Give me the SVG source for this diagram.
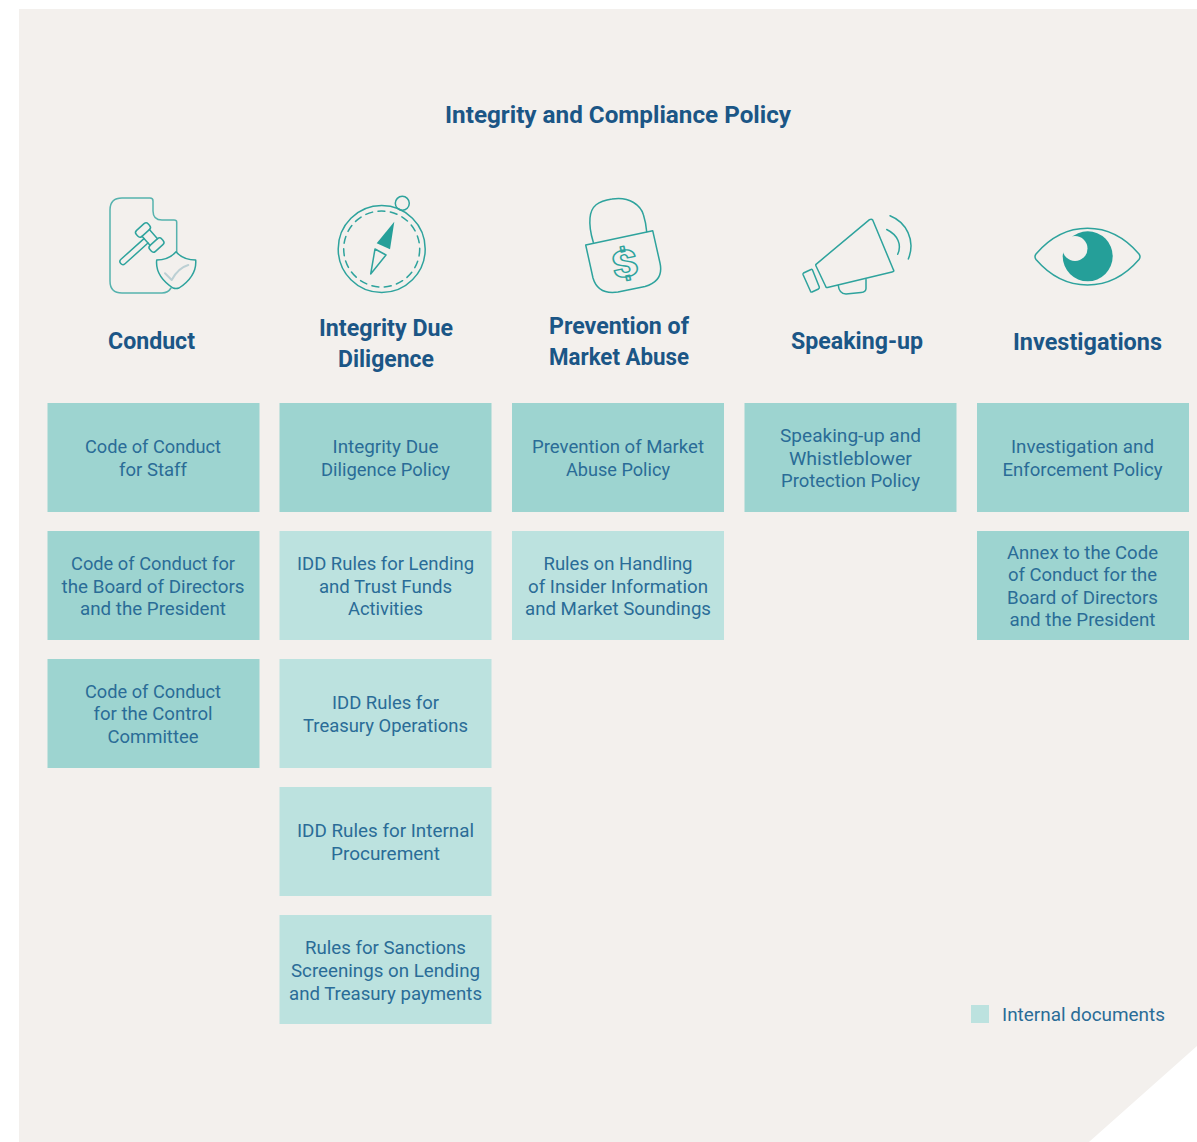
<svg xmlns="http://www.w3.org/2000/svg" width="1197" height="1142" viewBox="0 0 1197 1142">
<style>
text{font-family:"Roboto","Liberation Sans",sans-serif;text-anchor:middle}
.h{font-size:23px;font-weight:700;fill:#1b5686}
.t{font-size:19px;fill:#2a6c97}
.d{fill:#9dd4d0}
.l{fill:#bce2df}
.i{fill:none;stroke:#2ea39d;stroke-width:1.5;stroke-linejoin:round;stroke-linecap:round}
.f{fill:#259f99;stroke:none}
</style>
<path id="background" d="M19 9H1197V1046L1089 1142H19Z" fill="#f3f0ed"/>
<text id="title" class="h" x="618" y="123" textLength="346" lengthAdjust="spacingAndGlyphs">Integrity and Compliance Policy</text>

<g id="conduct-heading">
<g class="i">
<path d="M171 288Q168 293 162 293H122Q110 293 110 281V210Q110 198 122 198H150Q153 198 153 201V211Q153 220 162 220H174Q176.700 220 176.700 222V252" opacity=".8"/>
<path d="M144 238.600L121 259.300A3 3 0 0 0 125 263.800L148 243"/>
<rect x="135" y="226" width="16" height="8" rx="3" transform="rotate(-42 143 230)"/>
<rect x="148.500" y="241" width="16" height="8" rx="3" transform="rotate(-42 156.500 245)"/>
<path d="M149.400 229.600L157.500 238.700M142 236.300L150 245.300"/>
<path d="M176 251.700Q169 260 156.700 260Q155 276 173 288Q176 289 179 288Q197 276 195.700 260Q183 260 176 251.700Z" fill="#f3f0ed"/>
<path d="M165 273.300L171.700 280Q178 268 188.300 265" stroke="#bcd0d4" stroke-width="2"/>
</g>
<text class="h" x="151.500" y="349" textLength="87" lengthAdjust="spacingAndGlyphs">Conduct</text>
</g>

<g id="idd-heading">
<g class="i">
<circle cx="381.700" cy="249" r="43.500"/>
<circle cx="381.700" cy="249" r="38" stroke-dasharray="7 5.500"/>
<circle cx="402.300" cy="203.300" r="7"/>
<path class="f" d="M394.300 221.700L376.700 243.300L390 249.300Z"/>
<path d="M375 249L386 255L370.700 274Z"/>
</g>
<text class="h" x="386" y="336" textLength="134" lengthAdjust="spacingAndGlyphs">Integrity Due</text>
<text class="h" x="386" y="367" textLength="96" lengthAdjust="spacingAndGlyphs">Diligence</text>
</g>

<g id="market-heading">
<g class="i">
<path d="M593.300 242.300Q589 228 590 218C591 206 598 201 612 199C630 196 641 206 643.500 215Q646 223 646.700 231.700"/>
<path d="M585.700 245L652.700 230.700L660 263Q664 281 645 286.500L618 292Q598 295 593 278Z"/>
<text transform="translate(627.300 276.500) rotate(-12) scale(1.250 1)" style="font-size:37px;font-weight:900;fill:none;stroke:#2ea39d;stroke-width:1.300px">$</text>
</g>
<text class="h" x="619" y="334" textLength="140" lengthAdjust="spacingAndGlyphs">Prevention of</text>
<text class="h" x="619" y="365" textLength="140" lengthAdjust="spacingAndGlyphs">Market Abuse</text>
</g>

<g id="speaking-heading">
<g class="i">
<path d="M816 264.300L869.500 219.700Q871.500 218.500 872.700 220L893.500 270Q894.500 271.500 892 272L827.500 287.500Q826 288 825.500 286L816 266Q815.500 265 816 264.300Z"/>
<path d="M803.500 273L811 269.500Q812 269 812.500 270L819.300 287Q819.500 288.300 818.500 289L812 292Q811 292.300 810.500 291.300L803 274.500Q802.800 273.500 803.500 273Z"/>
<path d="M838.300 285.500Q839 293.500 846 294L861 292.500Q866 292 866 288.500L866 279.500"/>
<path d="M886.700 229.500C898 235 902 245 897.700 254.300"/>
<path d="M890 215.700C906 222 916 240 908.300 259"/>
</g>
<text class="h" x="857" y="349" textLength="132" lengthAdjust="spacingAndGlyphs">Speaking-up</text>
</g>

<g id="investigations-heading">
<g class="i">
<path d="M1036 254Q1058 228.300 1087.500 228.300Q1117 228.300 1139 254Q1141 256.700 1139 259.500Q1117 285 1087.500 285Q1058 285 1036 259.500Q1034 256.700 1036 254Z"/>
</g>
<circle class="f" cx="1087.700" cy="256.300" r="25"/>
<circle cx="1075" cy="248.500" r="12.500" fill="#f3f0ed"/>
<text class="h" x="1087.500" y="350" textLength="149" lengthAdjust="spacingAndGlyphs">Investigations</text>
</g>

<g id="code-staff"><rect class="d" x="47.500" y="403" width="212" height="109"/>
<text class="t" x="153" y="452.500" textLength="136" lengthAdjust="spacingAndGlyphs">Code of Conduct</text>
<text class="t" x="153" y="476" textLength="68" lengthAdjust="spacingAndGlyphs">for Staff</text></g>
<g id="code-board"><rect class="d" x="47.500" y="531" width="212" height="109"/>
<text class="t" x="153" y="570" textLength="164" lengthAdjust="spacingAndGlyphs">Code of Conduct for</text>
<text class="t" x="153" y="592.500" textLength="183" lengthAdjust="spacingAndGlyphs">the Board of Directors</text>
<text class="t" x="153" y="615" textLength="146" lengthAdjust="spacingAndGlyphs">and the President</text></g>
<g id="code-control"><rect class="d" x="47.500" y="659" width="212" height="109"/>
<text class="t" x="153" y="698" textLength="136" lengthAdjust="spacingAndGlyphs">Code of Conduct</text>
<text class="t" x="153" y="720" textLength="119" lengthAdjust="spacingAndGlyphs">for the Control</text>
<text class="t" x="153" y="743" textLength="91" lengthAdjust="spacingAndGlyphs">Committee</text></g>

<g id="idd-policy"><rect class="d" x="279.500" y="403" width="212" height="109"/>
<text class="t" x="385.500" y="452.500" textLength="106" lengthAdjust="spacingAndGlyphs">Integrity Due</text>
<text class="t" x="385.500" y="476" textLength="129" lengthAdjust="spacingAndGlyphs">Diligence Policy</text></g>
<g id="idd-lending"><rect class="l" x="279.500" y="531" width="212" height="109"/>
<text class="t" x="385.500" y="570" textLength="177" lengthAdjust="spacingAndGlyphs">IDD Rules for Lending</text>
<text class="t" x="385.500" y="592.500" textLength="133" lengthAdjust="spacingAndGlyphs">and Trust Funds</text>
<text class="t" x="385.500" y="615" textLength="75" lengthAdjust="spacingAndGlyphs">Activities</text></g>
<g id="idd-treasury"><rect class="l" x="279.500" y="659" width="212" height="109"/>
<text class="t" x="385.500" y="709" textLength="107" lengthAdjust="spacingAndGlyphs">IDD Rules for</text>
<text class="t" x="385.500" y="732" textLength="165" lengthAdjust="spacingAndGlyphs">Treasury Operations</text></g>
<g id="idd-procurement"><rect class="l" x="279.500" y="787" width="212" height="109"/>
<text class="t" x="385.500" y="837" textLength="177" lengthAdjust="spacingAndGlyphs">IDD Rules for Internal</text>
<text class="t" x="385.500" y="860" textLength="109" lengthAdjust="spacingAndGlyphs">Procurement</text></g>
<g id="sanctions"><rect class="l" x="279.500" y="915" width="212" height="109"/>
<text class="t" x="385.500" y="954" textLength="161" lengthAdjust="spacingAndGlyphs">Rules for Sanctions</text>
<text class="t" x="385.500" y="977" textLength="189" lengthAdjust="spacingAndGlyphs">Screenings on Lending</text>
<text class="t" x="385.500" y="999.500" textLength="193" lengthAdjust="spacingAndGlyphs">and Treasury payments</text></g>

<g id="market-policy"><rect class="d" x="512" y="403" width="212" height="109"/>
<text class="t" x="618" y="453" textLength="172" lengthAdjust="spacingAndGlyphs">Prevention of Market</text>
<text class="t" x="618" y="476" textLength="104" lengthAdjust="spacingAndGlyphs">Abuse Policy</text></g>
<g id="insider-rules"><rect class="l" x="512" y="531" width="212" height="109"/>
<text class="t" x="618" y="570" textLength="149" lengthAdjust="spacingAndGlyphs">Rules on Handling</text>
<text class="t" x="618" y="592.500" textLength="180" lengthAdjust="spacingAndGlyphs">of Insider Information</text>
<text class="t" x="618" y="615" textLength="186" lengthAdjust="spacingAndGlyphs">and Market Soundings</text></g>

<g id="speaking-policy"><rect class="d" x="744.500" y="403" width="212" height="109"/>
<text class="t" x="850.500" y="442" textLength="141" lengthAdjust="spacingAndGlyphs">Speaking-up and</text>
<text class="t" x="850.500" y="465" textLength="123" lengthAdjust="spacingAndGlyphs">Whistleblower</text>
<text class="t" x="850.500" y="487" textLength="139" lengthAdjust="spacingAndGlyphs">Protection Policy</text></g>

<g id="investigation-policy"><rect class="d" x="977" y="403" width="212" height="109"/>
<text class="t" x="1082.500" y="452.500" textLength="143" lengthAdjust="spacingAndGlyphs">Investigation and</text>
<text class="t" x="1082.500" y="476" textLength="160" lengthAdjust="spacingAndGlyphs">Enforcement Policy</text></g>
<g id="annex"><rect class="d" x="977" y="531" width="212" height="109"/>
<text class="t" x="1082.500" y="559" textLength="151" lengthAdjust="spacingAndGlyphs">Annex to the Code</text>
<text class="t" x="1082.500" y="581" textLength="149" lengthAdjust="spacingAndGlyphs">of Conduct for the</text>
<text class="t" x="1082.500" y="604" textLength="151" lengthAdjust="spacingAndGlyphs">Board of Directors</text>
<text class="t" x="1082.500" y="626" textLength="146" lengthAdjust="spacingAndGlyphs">and the President</text></g>

<g id="legend"><rect class="l" x="971" y="1005" width="18" height="18"/>
<text class="t" x="1083.500" y="1021" textLength="163" lengthAdjust="spacingAndGlyphs">Internal documents</text></g>
</svg>
